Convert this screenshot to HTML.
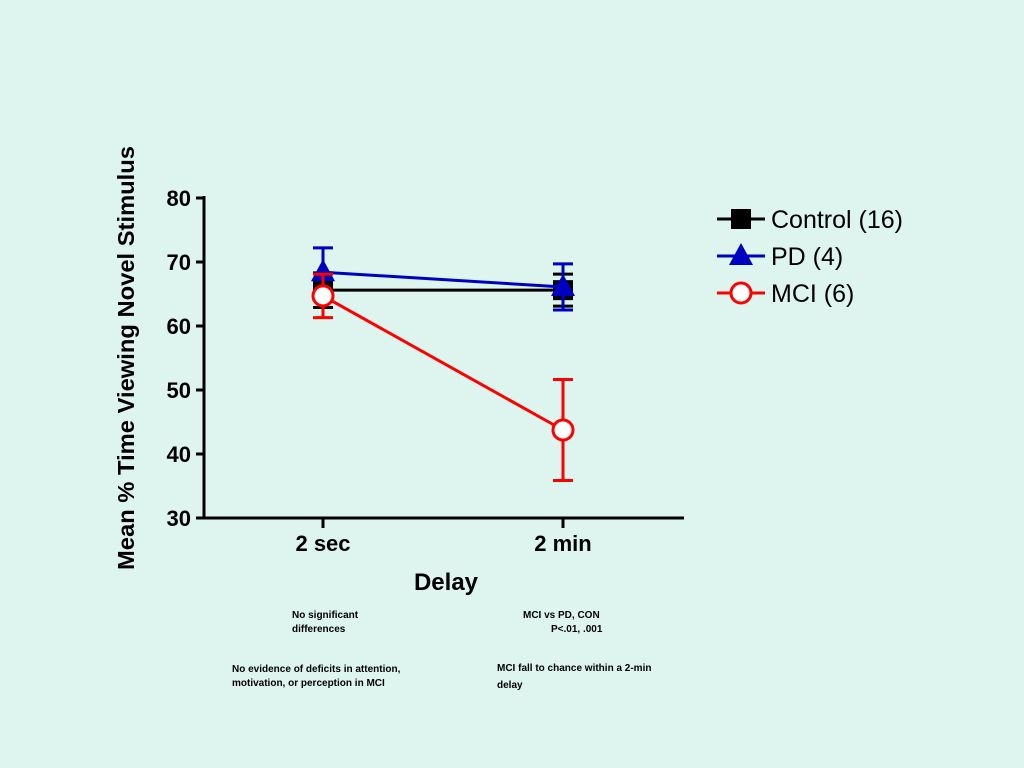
<!DOCTYPE html>
<html><head><meta charset="utf-8">
<style>
body{margin:0;background:#ddf5ee;}
svg{display:block;font-family:"Liberation Sans",Arial,sans-serif;}
</style></head>
<body>
<svg id="chart" width="1024" height="768">
<rect width="1024" height="768" fill="#ddf5ee"/>
<g id="plot"></g>
<text x="446" y="590" font-size="24" font-weight="bold" text-anchor="middle">Delay</text>
<text transform="translate(134,358) rotate(-90)" font-size="23.5" font-weight="bold" text-anchor="middle" textLength="424" lengthAdjust="spacingAndGlyphs">Mean % Time Viewing Novel Stimulus</text>
<g font-size="10" font-weight="bold">
<text x="292" y="618">No significant</text>
<text x="292" y="632">differences</text>
<text x="523" y="618">MCI vs PD, CON</text>
<text x="551" y="632">P&lt;.01, .001</text>
<text x="232" y="672">No evidence of deficits in attention,</text>
<text x="232" y="686">motivation, or perception in MCI</text>
<text x="497" y="671">MCI fall to chance within a 2-min</text>
<text x="497" y="688">delay</text>
</g>
</svg>
<script>
const categories=["2 sec","2 min"];
const yTicks=[30,40,50,60,70,80];
const seriesNames=["Control (16)","PD (4)","MCI (6)"];
const controlMean=[65.6,65.6];
const controlErr=[2.7,2.5];
const pdMean=[68.4,66.1];
const pdErr=[3.8,3.6];
const mciMean=[64.7,43.75];
const mciErr=[3.4,7.9];

const NS="http://www.w3.org/2000/svg";
const g=document.getElementById('plot');
const y=v=>198+(80-v)*6.4;
const x=i=>323+i*240;
function mk(t,a,p){const e=document.createElementNS(NS,t);for(const k in a)e.setAttribute(k,a[k]);(p||g).appendChild(e);return e;}
let ax=mk('line',{x1:204,y1:196,x2:204,y2:519,stroke:'#000','stroke-width':3});


let ax2=mk('line',{x1:202,y1:518,x2:684,y2:518,stroke:'#000','stroke-width':3});


yTicks.forEach(v=>{
 const t=mk('line',{x1:196,x2:204,y1:y(v),y2:y(v),stroke:'#000','stroke-width':3});
 
 
 const l=mk('text',{x:191,y:y(v)+8,'font-size':22,'font-weight':'bold','text-anchor':'end'});
 l.textContent=v;
 
 
});
categories.forEach((c,i)=>{
 const t=mk('line',{x1:x(i),x2:x(i),y1:518,y2:528,stroke:'#000','stroke-width':3});
 
 
 const l=mk('text',{x:x(i),y:551,'font-size':22,'font-weight':'bold','text-anchor':'middle'});
 l.textContent=c;
 
 
});
function marker(type,cx,cy,color,p){
 let m;
 if(type==='sq') m=mk('rect',{x:cx-10,y:cy-10,width:20,height:20,fill:color},p);
 else if(type==='tri') m=mk('polygon',{points:`${cx},${cy-13} ${cx-12},${cy+9} ${cx+12},${cy+9}`,fill:color},p);
 else m=mk('circle',{cx:cx,cy:cy,r:10,fill:'#fff',stroke:color,'stroke-width':3},p);
 
 
}
const series=[[controlMean,controlErr,'#000','sq'],[pdMean,pdErr,'#0000c0','tri'],[mciMean,mciErr,'#ff0000','circ']];
series.forEach(([m,e,c,t],s)=>{
 const grp=mk('g',{});
 
 
 m.forEach((v,i)=>{
  const eb=mk('path',{d:`M${x(i)},${y(v+e[i])}V${y(v-e[i])}M${x(i)-10},${y(v+e[i])}h20M${x(i)-10},${y(v-e[i])}h20`,stroke:c,'stroke-width':3,fill:'none'},grp);
  
  
 });
 const ln=mk('polyline',{points:m.map((v,i)=>x(i)+','+y(v)).join(' '),stroke:c,'stroke-width':3,fill:'none'},grp);
 
 
 m.forEach((v,i)=>marker(t,x(i),y(v),c,grp));
 const ly=219+s*37;
 const lg=mk('g',{});
 
 
 mk('line',{x1:717,x2:765,y1:ly,y2:ly,stroke:c,'stroke-width':3},lg);
 marker(t,741,ly,c,lg);
 const tx=mk('text',{x:771,y:ly+9,'font-size':25},lg);
 tx.textContent=seriesNames[s];
});
</script>
</body></html>
